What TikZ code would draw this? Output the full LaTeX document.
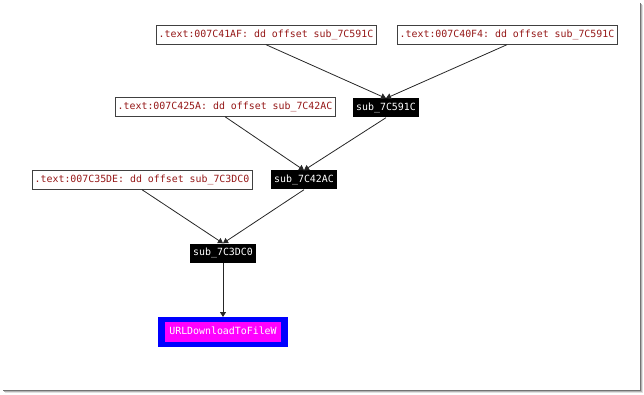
\documentclass[tikz,border=0pt]{standalone}
\usepackage{fontspec}
\setmonofont{DejaVu Sans Mono}
\usetikzlibrary{arrows.meta}

\definecolor{xrefred}{RGB}{150,25,25}
\definecolor{impmagenta}{RGB}{255,0,255}

\begin{document}
\begin{tikzpicture}[x=1pt,y=-1pt,font=\ttfamily\fontsize{9.9}{10}\selectfont,
  xref/.style={draw=black!75,fill=white,text=xrefred,minimum height=19pt,inner xsep=3pt,inner ysep=0pt},
  func/.style={fill=black,text=white,minimum height=19pt,inner xsep=3.5pt,inner ysep=0pt},
  imp/.style={fill=blue,text=white,inner xsep=7pt,inner ysep=5pt},
  edge/.style={-{Triangle[length=5pt,width=6pt]},black!85,line width=0.8pt}]

\useasboundingbox (0,0) rectangle (644,395);

% cornice con ombra
\draw[black!55,line width=1pt] (640.5,3) -- (640.5,390.5) -- (3,390.5);
\draw[black!30,line width=1pt] (641.5,4) -- (641.5,391.5) -- (4,391.5);
\draw[black!12,line width=1pt] (642.5,5) -- (642.5,392.5) -- (5,392.5);

% riferimenti
\node[xref] (a1) at (266,35) {.text:007C41AF: dd offset sub\_7C591C};
\node[xref] (a2) at (507,35) {.text:007C40F4: dd offset sub\_7C591C};
\node[xref] (b) at (225,107) {.text:007C425A: dd offset sub\_7C42AC};
\node[xref] (c) at (142,180) {.text:007C35DE: dd offset sub\_7C3DC0};

% funzioni
\node[func] (s591) at (386,108) {sub\_7C591C};
\node[func] (s42a) at (304,180) {sub\_7C42AC};
\node[func] (s3dc) at (223,253) {sub\_7C3DC0};
\node[imp] (url) at (223,332) {\setlength{\fboxsep}{4.5pt}\colorbox{impmagenta}{\strut URLDownloadToFileW}};

\draw[edge] (a1.south) -- (s591.north);
\draw[edge] (a2.south) -- (s591.north);
\draw[edge] (b.south) -- (s42a.north);
\draw[edge] (s591.south) -- (s42a.north);
\draw[edge] (c.south) -- (s3dc.north);
\draw[edge] (s42a.south) -- (s3dc.north);
\draw[edge] (s3dc.south) -- (url.north);

\end{tikzpicture}
\end{document}
